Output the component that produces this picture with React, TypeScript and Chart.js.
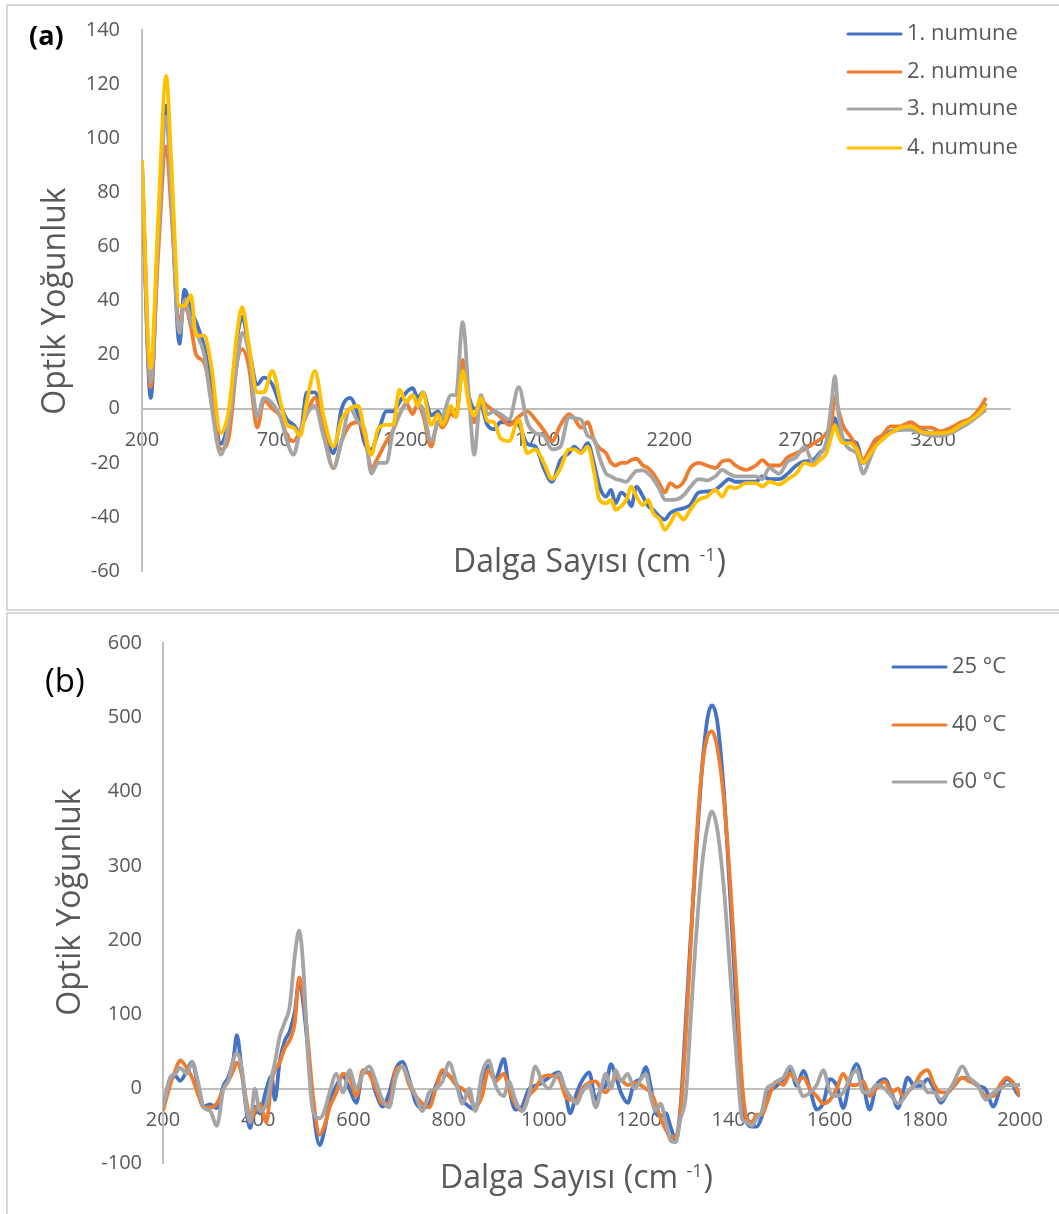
import { useEffect, useRef } from "react";
import { Chart, registerables } from "chart.js";

Chart.register(...registerables);

const FONT = '"Open Sans", "Noto Sans", sans-serif';
const TEXT = "#595959";
const AXIS = "#bfbfbf";
const SERIES_COLORS = ["#4472C4", "#ED7D31", "#A5A5A5", "#FFC000"];

// ---------- Panel (a) ----------
const wavenumbersA = [
  200, 233, 260, 292, 310, 342, 361, 386, 405, 436,
  461, 499, 530, 562, 580, 606, 637, 662, 694, 725,
  750, 775, 800, 825, 856, 888, 926, 957, 989, 1020,
  1045, 1070, 1095, 1127, 1152, 1177, 1202, 1227, 1246, 1265,
  1297, 1322, 1340, 1372, 1391, 1416, 1441, 1460, 1485, 1510,
  1535, 1560, 1592, 1629, 1661, 1692, 1724, 1755, 1787,
  1819, 1839, 1865, 1890, 1916, 1935, 1960, 1979, 1996, 2017,
  2037, 2056, 2075, 2100, 2120, 2139, 2164, 2183, 2203, 2228,
  2254, 2279, 2311, 2343, 2375, 2400, 2426, 2451, 2490, 2528,
  2553, 2579, 2617, 2649, 2681, 2713, 2745, 2770, 2796, 2815,
  2828, 2841, 2860, 2885, 2910, 2936, 2955, 2981, 3006, 3038,
  3076, 3115, 3153, 3191, 3229, 3268, 3306, 3344, 3376, 3401,
];
const numune1 = [
  90, 4, 60, 112, 85, 24, 44, 36, 32, 23,
  10, -13, -2.5, 27, 34, 22, 9, 11.5, 9, 1,
  -4, -6, -9, 6, 6, -5, -16.5, 0, 4, -2.5,
  -13, -15, -9, -1, -1, 2.5, 6, 7.6, 4, 6,
  -2.5, -1, -4, 0, -2.5, 15, 4, 0, 1, -6,
  -7.6, -5, -5, -6, -13, -14, -22, -27, -19,
  -16.4, -14, -16, -12.7, -21, -28.8, -32.5, -30, -35, -31,
  -32.5, -36, -28.8, -32.5, -36, -37.4, -40, -41, -38.6, -37.4,
  -36.8, -35.6, -31, -30.6, -30, -28, -26, -27, -27, -27,
  -25, -26, -26, -24, -21, -19.5, -19, -16.4, -14, -9,
  -3.5, -7.8, -11.5, -12, -12.7, -20, -17.6, -12.7, -11.5, -8.4,
  -7.8, -6.5, -7.8, -9, -9, -8.4, -6, -3.5, -1, 2,
];
const numune2 = [
  85, 8, 55, 97, 75, 33, 38, 30, 20, 17,
  5, -15, -10, 18, 22, 15, -7, 3, 0, -3,
  -10, -12, -8, -2, 4, -8, -22, -12, -6, -5,
  -10, -22, -18, -12, -8, -2, 2, -2, 2, -2,
  -14, -5, -7, -2, -3, 18, 3, -5, 3, 1,
  -1, -3, -6, -3, -1, -4, -8, -12, -6,
  -2, -3.5, -7, -5, -12, -14.5, -16.5, -20, -21, -20,
  -20, -19, -18.5, -21, -22, -24, -28, -31, -27.5, -29,
  -27, -22, -20, -21, -22, -19.5, -19, -21, -22.6, -21,
  -19, -21, -21, -18, -16.5, -15, -13, -11.5, -9, -5,
  4.5, -0.4, -6.5, -10, -14, -19, -16, -11.5, -10, -6.5,
  -6.5, -5, -7, -7, -8.4, -7, -5, -3.5, 0, 4,
];
const numune3 = [
  90, 10, 60, 108, 80, 28, 40, 32, 28, 20,
  3, -17, -5, 18, 28, 20, -3, 4, 2, -3,
  -12, -17, -8, -2, 1, -10, -22, -12, 0, -5,
  -8, -24, -20, -20, -8, -2, 2, 5, 2, 0,
  -12, -5, -3, 5, 5, 32, 3, -17, 5, -2,
  -1, -2, -4, 8, -5, -9, -10, -15, -14,
  -3, -3.5, -4, -10, -11.5, -18, -24, -25, -26, -26.5,
  -27, -25, -23, -22.8, -24, -26, -30, -33.7, -33.7, -33.5,
  -32, -29, -26, -26.5, -25, -22.6, -24, -25, -25, -25,
  -26, -22, -24, -19.5, -18, -14, -20, -17, -12, 2,
  12, -1.6, -11.5, -15, -16.4, -24, -20, -14, -11.5, -9,
  -7.8, -7.8, -9, -10, -10, -9, -7, -4.7, -2.2, -0.4,
];
const numune4 = [
  92, 15, 67, 123, 93, 38, 38, 42, 27, 27,
  17, -9, 0, 29, 37.5, 23, 6, 6, 14, 2.5,
  -6, -7, -10, 2.5, 14, -2.5, -14, -4, 0, 1,
  -9, -17, -7.6, -6, -6, 7, 2.5, 5, 1, 6,
  -6, -2, -6, 1, -3, 14, 1, -2.5, 4, -4.5,
  -5, -11, -12, -4, -16.5, -15, -20, -26, -22,
  -15, -15, -16.4, -14, -24, -33.7, -35, -33.7, -37.4, -36,
  -33.7, -28.8, -32.5, -35.6, -33.7, -38.6, -41, -44.8, -42.3, -38.6,
  -41, -37.4, -33.7, -32.5, -30, -32.5, -28.8, -29.4, -27.5, -27.5,
  -28.8, -27, -28, -26, -24, -20, -21, -19, -16.4, -10,
  -6, -10, -12.7, -12.7, -15, -20, -17.6, -14, -11.5, -9,
  -7, -6.5, -8.4, -9, -9, -8.4, -6, -4, -1.6, 1.5,
];
const seriesLabelsA = ["1. numune", "2. numune", "3. numune", "4. numune"];
const xTicksA = [200, 700, 1200, 1700, 2200, 2700, 3200];
const yTicksA = [-60, -40, -20, 0, 20, 40, 60, 80, 100, 120, 140];

// ---------- Panel (b) ----------
const wavenumbersB = [
  200, 215, 226, 236, 250, 261, 275, 285, 299, 313,
  327, 337, 348, 355, 365, 376, 383, 393, 403, 417,
  428, 435, 445, 456, 466, 477, 486, 494, 505, 515,
  529, 539, 550, 564, 578, 592, 606, 620, 633, 647,
  661, 675, 689, 703, 717, 731, 745, 759, 773, 787,
  801, 815, 829, 843, 856, 870, 884, 898, 916, 926,
  940, 954, 968, 982, 996, 1010, 1031, 1045, 1055, 1069,
  1080,
  1095, 1109, 1120, 1130, 1141, 1151, 1162, 1176, 1190, 1203,
  1214, 1224, 1235, 1245, 1256, 1266, 1277, 1287, 1298, 1308,
  1318, 1332, 1344, 1353, 1364, 1378, 1392, 1406, 1416, 1426,
  1437, 1447, 1458, 1468, 1479, 1489, 1503, 1517, 1531, 1545,
  1559, 1573, 1587, 1601, 1615, 1629, 1643, 1657, 1671, 1684,
  1698, 1716, 1730, 1744, 1754, 1764, 1778, 1792, 1806, 1820,
  1834, 1848, 1862, 1879, 1893, 1911, 1928, 1944, 1958, 1972,
  1983, 1993, 2000,
];
const temp25 = [
  -28, 13, 17, 10.5, 24, 36, -1, -24, -21, -26,
  4, 15, 40, 72, 26.5, -33, -53, -24, -33, -1,
  17, -15, 36, 65, 77, 104, 145, 118, 49, -24,
  -76, -56, -19, 4, 17, -1, -19, 22, 22, -5.5,
  -24, -5.5, 26.5, 36, 13, -19, -26, -21, 4, 22,
  17, 8, -15, -24, -28, 13, 31, 13, 40, 4,
  -28, -24, -1, 4, 8, 15, 22, -5.5, -33, -5.5,
  10.5,
  22, -15, -1, 4, 33, 17, -5.5, -19, 8, 13,
  29, 4, -33, -37, -33, -51, -69, -24, 90, 200,
  300, 430, 500, 516, 495, 400, 250, 90, -20, -45,
  -51, -51, -37, -10, -1, 4, 13, 26.5, 4, 24,
  -1, -28, -19, 13, 4, -26, 13, 33, 4, -28,
  4, 13, -5.5, -26, -5.5, 15, 4, 4, 13, -1,
  -19, -5.5, 4, 15, 13, 4, -1, -24, -1, 13,
  8, -5.5, -10,
];
const temp40 = [
  -30, 5, 25, 38, 28, 15, -10, -25, -25, -20,
  0, 10, 25, 35, 20, -20, -45, -30, -20, -45,
  10, 25, 35, 55, 65, 90, 150, 130, 60, -10,
  -62, -50, -25, -5, 20, 15, -10, 25, 20, 0,
  -20, -20, 25, 30, 5, -10, -20, -25, 0, 25,
  18, 5, 0, -10, -25, -10, 25, 10, 20, 0,
  -20, -30, -10, 0, 15, 18, 15, -10, -15, -15,
  0,
  8, 10, 0, -5, 5, 15, 12, 5, 8, 5,
  0, -5, -20, -40, -55, -65, -65, -30, 70, 190,
  310, 430, 475, 481, 460, 390, 270, 120, 10, -40,
  -45, -35, -35, -20, 0, 10, 5, 20, 10, 15,
  0, -10, -20, -15, 0, 20, 5, 5, 10, -10,
  0, 10, -5, 0, -10, -5, 5, 20, 25, 5,
  -5, -5, 5, 15, 10, 5, -10, -10, 5, 15,
  10, 0, -10,
];
const temp60 = [
  -25, 15, 20, 28, 20, 35, 5, -25, -30, -50,
  0, 10, 40, 48, 30, -30, -45, 0, -30, -20,
  15, 35, 70, 90, 110, 180, 213, 170, 40, -30,
  -40, -30, -5, 20, -5, 25, 0, 20, 30, 10,
  -15, -25, 15, 30, 10, -10, -30, -5, 0, 10,
  35, 10, -20, 0, -30, 20, 38, 5, -10, 10,
  -15, -30, -10, 30, 10, 0, 20, 0, -10, -20,
  -5,
  5, -25, 0, 20, 0, 25, 10, 20, 0, 12,
  20, -10, -30, -20, -45, -70, -72, -40, -10, 90,
  190, 300, 355, 373, 350, 270, 150, 30, -40, -45,
  -50, -40, -30, 0, 5, 10, 15, 30, 10, -10,
  -5, 5, 25, -5, -10, -5, 15, 25, -5, -5,
  5, 0, -10, -20, -15, -5, 5, 10, -5, -5,
  -15, -5, 10, 30, 15, 5, -15, -5, 0, 5,
  5, 5, 5,
];
const seriesLabelsB = ["25 °C", "40 °C", "60 °C"];
const xTicksB = [200, 400, 600, 800, 1000, 1200, 1400, 1600, 1800, 2000];
const yTicksB = [-100, 0, 100, 200, 300, 400, 500, 600];

type Decor = {
  panelLabel: string;
  panelFont: string;
  panelX: number;
  panelY: number;
  yTitleX: number;
  yTitleY: number;
  xTitleCX: number;
  xTitleBase: number;
  legendX1: number;
  legendX2: number;
  legendTextX: number;
  legendYs: number[];
};

function decorPlugin(d: Decor, labels: string[]) {
  return {
    id: "decor",
    afterDraw(chart: any) {
      const ctx: CanvasRenderingContext2D = chart.ctx;
      ctx.save();
      // panel label
      ctx.fillStyle = "#000000";
      ctx.font = d.panelFont;
      ctx.textAlign = "left";
      ctx.textBaseline = "middle";
      ctx.fillText(d.panelLabel, d.panelX, d.panelY);

      // y title
      ctx.fillStyle = TEXT;
      ctx.save();
      ctx.translate(d.yTitleX, d.yTitleY);
      ctx.rotate(-Math.PI / 2);
      ctx.font = `32px ${FONT}`;
      ctx.textAlign = "center";
      ctx.textBaseline = "middle";
      ctx.fillText("Optik Yoğunluk", 0, 0);
      ctx.restore();

      // x title with superscript
      const main = "Dalga Sayısı (cm ";
      ctx.textAlign = "left";
      ctx.textBaseline = "alphabetic";
      ctx.font = `32px ${FONT}`;
      const w1 = ctx.measureText(main).width;
      const w3 = ctx.measureText(")").width;
      ctx.font = `18px ${FONT}`;
      const w2 = ctx.measureText("-1").width;
      let x = d.xTitleCX - (w1 + w2 + w3) / 2;
      ctx.font = `32px ${FONT}`;
      ctx.fillText(main, x, d.xTitleBase);
      x += w1;
      ctx.font = `18px ${FONT}`;
      ctx.fillText("-1", x, d.xTitleBase - 11);
      x += w2 + 1;
      ctx.font = `32px ${FONT}`;
      ctx.fillText(")", x, d.xTitleBase);

      // legend
      ctx.font = `22px ${FONT}`;
      ctx.textBaseline = "middle";
      labels.forEach((lab, i) => {
        const y = d.legendYs[i];
        ctx.strokeStyle = SERIES_COLORS[i];
        ctx.lineWidth = 3;
        ctx.lineCap = "round";
        ctx.beginPath();
        ctx.moveTo(d.legendX1, y);
        ctx.lineTo(d.legendX2, y);
        ctx.stroke();
        ctx.fillStyle = TEXT;
        ctx.fillText(lab, d.legendTextX, y);
      });
      ctx.restore();
    },
  };
}

type PanelProps = {
  xs: number[];
  series: number[][];
  labels: string[];
  xMin: number;
  xMax: number;
  yMin: number;
  yMax: number;
  xTicks: number[];
  yTicks: number[];
  width: number;
  height: number;
  pad: { top: number; right: number; bottom: number; left: number };
  yAxisWidth: number;
  yTickPad: number;
  decor: Decor;
};

function Panel(p: PanelProps) {
  const ref = useRef<HTMLCanvasElement>(null);
  useEffect(() => {
    const n = p.series.length;
    const chart = new Chart(ref.current as HTMLCanvasElement, {
      type: "line",
      data: {
        datasets: p.series.map((s, i) => ({
          label: p.labels[i],
          data: p.xs.map((x, j) => ({ x, y: s[j] })),
          borderColor: SERIES_COLORS[i],
          backgroundColor: SERIES_COLORS[i],
          borderWidth: 3.8,
          pointRadius: 0,
          cubicInterpolationMode: "monotone",
          fill: false,
          order: n - 1 - i,
        })),
      },
      options: {
        responsive: false,
        animation: false,
        events: [],
        layout: { padding: p.pad },
        plugins: {
          legend: { display: false },
          tooltip: { enabled: false },
          title: { display: false },
        },
        scales: {
          x: {
            type: "linear",
            min: p.xMin,
            max: p.xMax,
            position: { y: 0 } as any,
            grid: { display: false, drawTicks: true, tickLength: 20 },
            border: { display: true, color: AXIS, width: 2 },
            ticks: {
              padding: 0,
              color: TEXT,
              font: { family: FONT, size: 20 },
              autoSkip: false,
              maxRotation: 0,
              callback: (v: any) => String(v),
            },
            afterBuildTicks: (s: any) => {
              s.ticks = p.xTicks.map((v) => ({ value: v }));
            },
          },
          y: {
            type: "linear",
            position: "left",
            min: p.yMin,
            max: p.yMax,
            grid: { display: false, drawTicks: true, tickLength: p.yTickPad },
            border: { display: true, color: AXIS, width: 2 },
            ticks: {
              padding: 0,
              color: TEXT,
              font: { family: FONT, size: 20 },
              autoSkip: false,
              callback: (v: any) => String(v),
            },
            afterBuildTicks: (s: any) => {
              s.ticks = p.yTicks.map((v) => ({ value: v }));
            },
            afterFit: (s: any) => {
              s.width = p.yAxisWidth;
            },
          },
        },
      } as any,
      plugins: [decorPlugin(p.decor, p.labels)],
    });
    return () => chart.destroy();
  }, []);
  return (
    <canvas
      ref={ref}
      width={p.width}
      height={p.height}
      style={{ display: "block", width: p.width, height: p.height }}
    />
  );
}

export default function App() {
  return (
    <div
      style={{
        position: "absolute",
        left: 0,
        top: 0,
        width: 1059,
        height: 1214,
        background: "#ffffff",
        overflow: "hidden",
      }}
    >
      <div style={{ position: "absolute", left: 6, top: 4 }}>
        <Panel
          xs={wavenumbersA}
          series={[numune1, numune2, numune3, numune4]}
          labels={seriesLabelsA}
          xMin={200}
          xMax={3492}
          yMin={-60}
          yMax={140}
          xTicks={xTicksA}
          yTicks={yTicksA}
          width={1052}
          height={606}
          pad={{ top: 26, right: 48, bottom: 39, left: 0 }}
          yAxisWidth={136}
          yTickPad={22}
          decor={{
            panelLabel: "(a)",
            panelFont: `bold 27px ${FONT}`,
            panelX: 23,
            panelY: 33,
            yTitleX: 50,
            yTitleY: 297,
            xTitleCX: 583,
            xTitleBase: 568,
            legendX1: 842,
            legendX2: 895,
            legendTextX: 901,
            legendYs: [30, 68, 105, 144],
          }}
        />
      </div>
      <div
        style={{
          position: "absolute",
          left: 6,
          top: 4,
          width: 1056,
          height: 607,
          boxSizing: "border-box",
          border: "2px solid #d9d9d9",
          pointerEvents: "none",
        }}
      />
      <div style={{ position: "absolute", left: 6, top: 613 }}>
        <Panel
          xs={wavenumbersB}
          series={[temp25, temp40, temp60]}
          labels={seriesLabelsB}
          xMin={200}
          xMax={2000}
          yMin={-100}
          yMax={600}
          xTicks={xTicksB}
          yTicks={yTicksB}
          width={1052}
          height={601}
          pad={{ top: 30, right: 38, bottom: 51, left: 0 }}
          yAxisWidth={157}
          yTickPad={21}
          decor={{
            panelLabel: "(b)",
            panelFont: `33px ${FONT}`,
            panelX: 39,
            panelY: 70,
            yTitleX: 65,
            yTitleY: 289,
            xTitleCX: 570,
            xTitleBase: 575,
            legendX1: 887,
            legendX2: 940,
            legendTextX: 946,
            legendYs: [54, 112, 169],
          }}
        />
      </div>
      <div
        style={{
          position: "absolute",
          left: 6,
          top: 612,
          width: 1056,
          height: 610,
          boxSizing: "border-box",
          border: "2px solid #d9d9d9",
          pointerEvents: "none",
        }}
      />
    </div>
  );
}
